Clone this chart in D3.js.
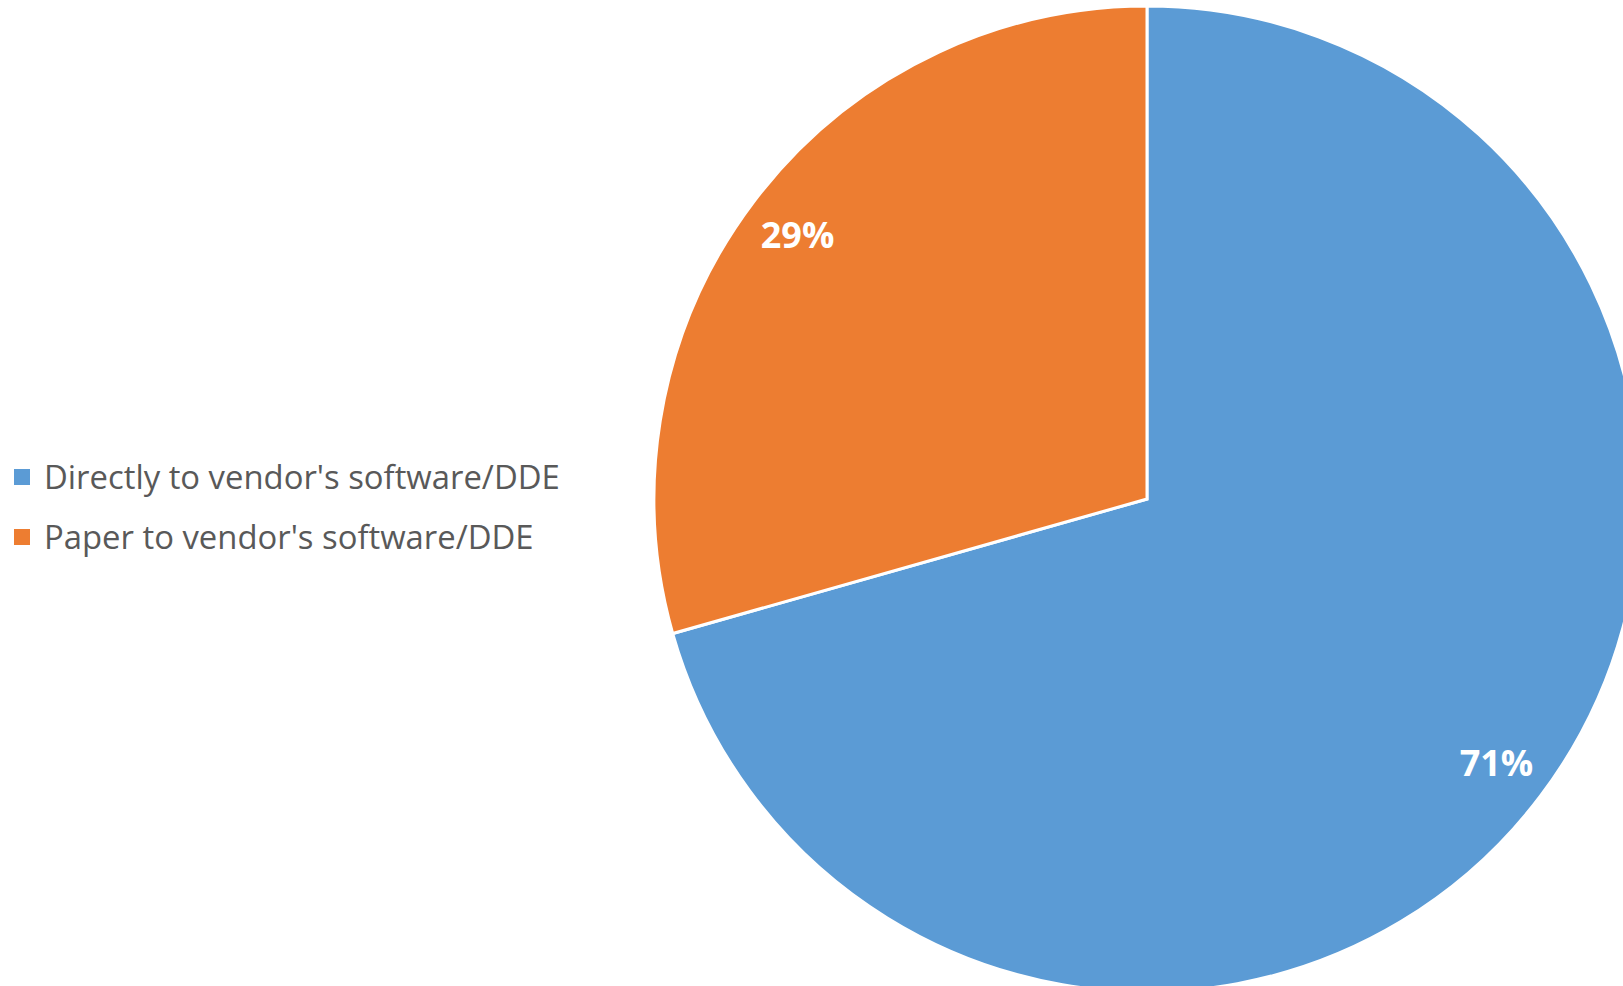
<!DOCTYPE html>
<html>
<head>
<meta charset="utf-8">
<script src="https://cdn.jsdelivr.net/npm/d3@7"></script>
<style>
  html, body { margin: 0; padding: 0; background: #fff; overflow: hidden; }
  svg { display: block; }
</style>
</head>
<body>
<svg id="chart" width="1623" height="986"></svg>
<script>
// Data
const categories = ["Directly to vendor's software/DDE", "Paper to vendor's software/DDE"];
const values = [70.6, 29.4];
const labels = ["71%", "29%"];
const colors = ["#5B9BD5", "#ED7D31"];

const W = 1623, H = 986;
const svg = d3.select("#chart");

const cx = 1147, cy = 499, R = 493;

const pie = d3.pie().sort(null).value(d => d)(values);
const arc = d3.arc().innerRadius(0).outerRadius(R);
const labelArc = d3.arc().innerRadius(438).outerRadius(438);

const g = svg.append("g").attr("transform", `translate(${cx},${cy})`);

g.selectAll("path.slice")
  .data(pie)
  .enter().append("path")
  .attr("class", "slice")
  .attr("d", arc)
  .attr("fill", (d, i) => colors[i])
  .attr("stroke", "#fff")
  .attr("stroke-width", 3)
  .attr("stroke-linejoin", "miter");

g.selectAll("text.lbl")
  .data(pie)
  .enter().append("text")
  .attr("class", "lbl")
  .attr("transform", d => `translate(${labelArc.centroid(d)})`)
  .attr("text-anchor", "middle")
  .attr("dy", "0.36em")
  .attr("fill", "#fff")
  .attr("font-family", "'Open Sans', 'Liberation Sans', sans-serif")
  .attr("font-weight", "bold")
  .attr("font-size", 36)
  .text((d, i) => labels[i]);

// Legend
const legend = svg.append("g").attr("transform", "translate(14,0)");
const rows = legend.selectAll("g.row")
  .data(categories)
  .enter().append("g")
  .attr("class", "row")
  .attr("transform", (d, i) => `translate(0,${477 + i * 60})`);

rows.append("rect")
  .attr("x", 0)
  .attr("y", -8)
  .attr("width", 16)
  .attr("height", 16)
  .attr("fill", (d, i) => colors[i]);

const texts = rows.append("text")
  .attr("x", 30)
  .attr("dy", "0.35em")
  .attr("fill", "#595959")
  .attr("font-family", "'Open Sans', 'Liberation Sans', sans-serif")
  .attr("font-size", 28)
  .text(d => d);

// fit legend font size so first entry spans ~516px like the reference
const len = texts.nodes()[0].getComputedTextLength();
const fs = 28 * 516 / len;
texts.attr("font-size", fs);
</script>
</body>
</html>
